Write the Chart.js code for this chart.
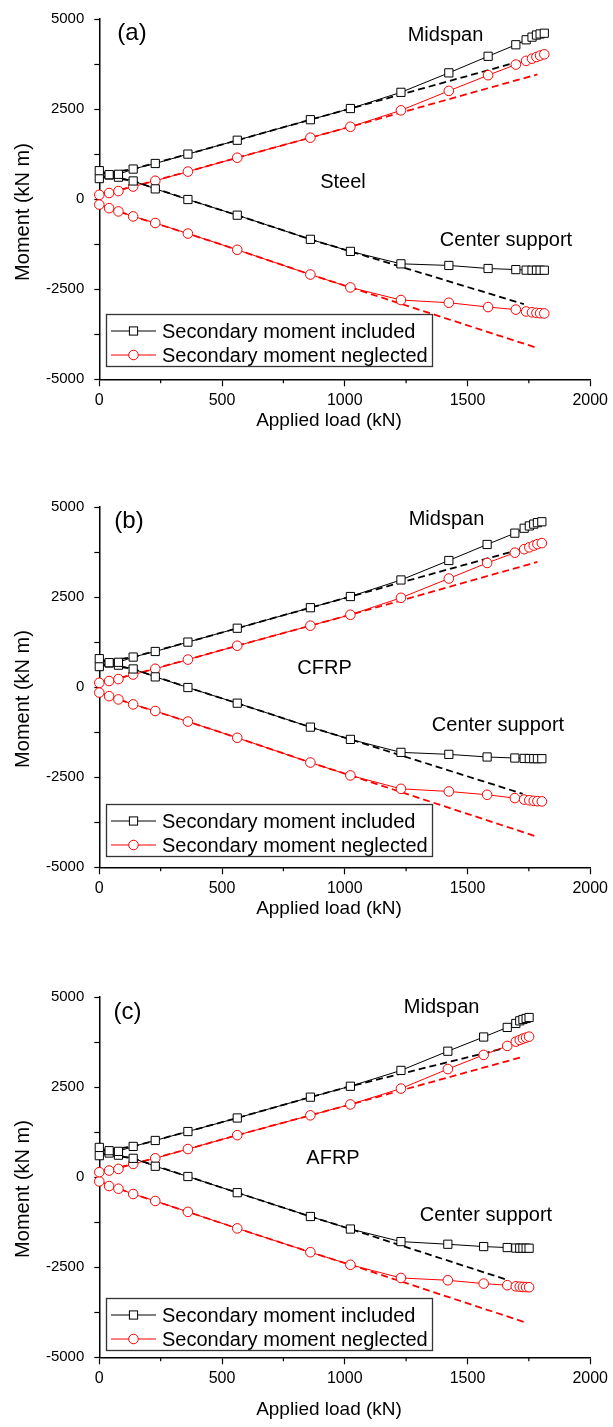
<!DOCTYPE html>
<html>
<head>
<meta charset="utf-8">
<script src="https://cdn.jsdelivr.net/npm/chart.js@4.4.1/dist/chart.umd.min.js"></script>
<style>
  html, body { margin: 0; padding: 0; background: #fff; }
  body { width: 613px; height: 1427px; position: relative; overflow: hidden; }
  .panel { position: absolute; left: 0; width: 613px; }
  canvas { display: block; }
</style>
</head>
<body>
<div class="panel" style="top:0"><canvas id="chartA" width="613" height="488"></canvas></div>
<div class="panel" style="top:488px"><canvas id="chartB" width="613" height="490"></canvas></div>
<div class="panel" style="top:978px"><canvas id="chartC" width="613" height="449"></canvas></div>
<script>
// ---- (a) Steel ----
const loadA    = [0, 40, 78, 138, 228, 361, 562, 860, 1023, 1229, 1424, 1584, 1697, 1739, 1763, 1781, 1796, 1813];
const midInclA = [790, 680, 690, 835, 990, 1250, 1635, 2205, 2515, 2965, 3505, 3965, 4285, 4423, 4497, 4555, 4585, 4605];
const supInclA = [570, 670, 610, 505, 285, -10, -445, -1115, -1450, -1795, -1840, -1925, -1955, -1970, -1972, -1972, -1972, -1972];
const midNeglA = [120, 170, 225, 350, 510, 765, 1150, 1706, 2009, 2465, 3005, 3440, 3735, 3838, 3900, 3946, 3984, 4020];
const supNeglA = [-150, -250, -340, -478, -662, -955, -1405, -2092, -2450, -2800, -2875, -2995, -3065, -3117, -3140, -3155, -3165, -3172];
// linear (dashed) results
const linInclLoadA = [0, 138, 361, 562, 860, 1023, 1730];
const linNeglLoadA = [0, 138, 361, 562, 860, 1023, 1785];
const linMidInclA  = [700, 835, 1250, 1635, 2205, 2515, 3855];
const linSupInclA  = [640, 505, -10, -445, -1115, -1450, -2914];
const linMidNeglA  = [120, 350, 765, 1150, 1706, 2009, 3463];
const linSupNeglA  = [-150, -478, -955, -1405, -2092, -2450, -4133];

// ---- (b) CFRP ----
const loadB    = [0, 40, 78, 138, 228, 361, 562, 860, 1023, 1229, 1424, 1580, 1693, 1731, 1752, 1770, 1785, 1803];
const midInclB = [790, 680, 690, 835, 990, 1250, 1635, 2205, 2515, 2975, 3515, 3960, 4274, 4410, 4475, 4525, 4565, 4590];
const supInclB = [570, 670, 610, 505, 285, -10, -445, -1110, -1450, -1810, -1865, -1938, -1967, -1978, -1982, -1984, -1985, -1985];
const midNeglB = [120, 170, 225, 350, 510, 765, 1150, 1706, 2009, 2480, 3015, 3447, 3732, 3830, 3880, 3930, 3970, 3998];
const supNeglB = [-150, -250, -340, -478, -662, -955, -1405, -2092, -2450, -2822, -2895, -2987, -3079, -3120, -3140, -3155, -3165, -3171];
const linInclLoadB = [0, 138, 361, 562, 860, 1023, 1725];
const linNeglLoadB = [0, 138, 361, 562, 860, 1023, 1785];
const linMidInclB  = [700, 835, 1250, 1635, 2205, 2515, 3842];
const linSupInclB  = [640, 505, -10, -445, -1110, -1450, -2960];
const linMidNeglB  = [120, 350, 765, 1150, 1706, 2009, 3474];
const linSupNeglB  = [-150, -478, -955, -1405, -2092, -2450, -4154];

// ---- (c) AFRP ----
const loadC    = [0, 40, 78, 138, 228, 361, 562, 860, 1023, 1229, 1420, 1566, 1662, 1697, 1713, 1726, 1739, 1751];
const midInclC = [826, 734, 716, 853, 1018, 1266, 1642, 2220, 2523, 2963, 3495, 3890, 4156, 4266, 4339, 4376, 4404, 4431];
const supInclC = [596, 670, 610, 523, 303, 18, -431, -1092, -1440, -1789, -1862, -1927, -1954, -1968, -1972, -1972, -1972, -1972];
const midNeglC = [138, 183, 229, 367, 523, 780, 1165, 1716, 2018, 2459, 3000, 3394, 3642, 3761, 3807, 3844, 3872, 3899];
const supNeglC = [-119, -248, -321, -468, -661, -963, -1422, -2083, -2431, -2798, -2862, -2954, -2999, -3030, -3040, -3048, -3052, -3055];
const linInclLoadC = [0, 138, 361, 562, 860, 1023, 1667];
const linNeglLoadC = [0, 138, 361, 562, 860, 1023, 1730];
const linMidInclC  = [720, 853, 1266, 1642, 2220, 2523, 3606];
const linSupInclC  = [650, 523, 18, -431, -1092, -1440, -2862];
const linMidNeglC  = [138, 367, 780, 1165, 1716, 2018, 3349];
const linSupNeglC  = [-119, -468, -963, -1422, -2083, -2431, -4018];

const xTicksMajor = [0, 500, 1000, 1500, 2000];
const legendLabels = ['Secondary moment included', 'Secondary moment neglected'];

const FONT = '"Liberation Sans", Arial, Helvetica, sans-serif';
const RED = '#ff0000';

const pts = (xs, ys) => xs.map((x, i) => ({ x, y: ys[i] }));

function drawSquare(ctx, x, y, s) {
  ctx.fillStyle = '#fff';
  ctx.fillRect(x - s / 2, y - s / 2, s, s);
  ctx.strokeRect(x - s / 2, y - s / 2, s, s);
}
function drawCircle(ctx, x, y, r) {
  ctx.beginPath();
  ctx.arc(x, y, r, 0, Math.PI * 2);
  ctx.fillStyle = '#fff';
  ctx.fill();
  ctx.stroke();
}

// texts, legend, axis titles and minor ticks
const decor = {
  id: 'decor',
  afterDraw(chart, args, o) {
    const { ctx } = chart;
    const x = chart.scales.x;
    ctx.save();

    // minor ticks on x
    ctx.strokeStyle = '#000';
    ctx.lineWidth = 1.2;
    const xt = x.ticks.map(t => t.value);
    for (let i = 0; i < xt.length - 1; i++) {
      const px = x.getPixelForValue((xt[i] + xt[i + 1]) / 2);
      ctx.beginPath();
      ctx.moveTo(px, x.top);
      ctx.lineTo(px, x.top + 4);
      ctx.stroke();
    }

    ctx.fillStyle = '#000';
    ctx.textAlign = 'center';
    ctx.textBaseline = 'middle';
    ctx.font = `24px ${FONT}`;
    ctx.fillText(o.tag, o.tagAt[0], o.tagAt[1]);
    ctx.font = `20px ${FONT}`;
    ctx.fillText(o.material, o.materialAt[0], o.materialAt[1]);
    ctx.fillText('Midspan', o.midAt[0], o.midAt[1]);
    ctx.fillText('Center support', o.supAt[0], o.supAt[1]);

    // axis titles
    ctx.font = `19px ${FONT}`;
    ctx.fillText('Applied load (kN)', 329, o.xTitleY);
    ctx.save();
    ctx.translate(23, o.yTitleY);
    ctx.rotate(-Math.PI / 2);
    ctx.font = `20px ${FONT}`;
    ctx.fillText('Moment (kN m)', 0, 0);
    ctx.restore();

    // legend box
    const lx = 106, ly = o.legendTop, lw = 326, lh = 52;
    ctx.strokeStyle = '#333';
    ctx.lineWidth = 1.3;
    ctx.strokeRect(lx + 0.5, ly + 0.5, lw, lh);
    const rows = [ly + 17, ly + 41];
    ctx.lineWidth = 1;
    ctx.strokeStyle = '#000';
    ctx.beginPath(); ctx.moveTo(111, rows[0]); ctx.lineTo(156, rows[0]); ctx.stroke();
    drawSquare(ctx, 133.5, rows[0], 8.2);
    ctx.strokeStyle = RED;
    ctx.beginPath(); ctx.moveTo(111, rows[1]); ctx.lineTo(156, rows[1]); ctx.stroke();
    drawCircle(ctx, 133.5, rows[1], 4.8);
    ctx.fillStyle = '#000';
    ctx.textAlign = 'left';
    ctx.font = `20px ${FONT}`;
    ctx.fillText(legendLabels[0], 162, rows[0] + 1);
    ctx.fillText(legendLabels[1], 162, rows[1] + 1);

    ctx.restore();
  }
};

function solid(data, color, style) {
  return {
    data, borderColor: color, borderWidth: 1, tension: 0, fill: false,
    pointStyle: style, pointRadius: style === 'rect' ? 5.8 : 4.8,
    pointBackgroundColor: '#fff', pointBorderColor: color, pointBorderWidth: 1,
    clip: false
  };
}
function dashed(data, color) {
  return {
    data, borderColor: color, borderWidth: 1.8, borderDash: [7, 4],
    tension: 0, fill: false, pointRadius: 0, clip: false
  };
}

function makeChart(id, s, deco) {
  const canvas = document.getElementById(id);
  const H = canvas.height;
  new Chart(canvas, {
    type: 'line',
    data: {
      datasets: [
        solid(pts(s.load, s.midIncl), '#000', 'rect'),
        solid(pts(s.load, s.supIncl), '#000', 'rect'),
        solid(pts(s.load, s.midNegl), RED, 'circle'),
        solid(pts(s.load, s.supNegl), RED, 'circle'),
        dashed(pts(s.linInclLoad, s.linMidIncl), '#000'),
        dashed(pts(s.linInclLoad, s.linSupIncl), '#000'),
        dashed(pts(s.linNeglLoad, s.linMidNegl), RED),
        dashed(pts(s.linNeglLoad, s.linSupNegl), RED)
      ]
    },
    options: {
      responsive: false,
      animation: false,
      events: [],
      layout: { padding: { left: 0, right: 21.5, top: 15.2, bottom: H - 379.3 - 30 } },
      plugins: { legend: { display: false }, tooltip: { enabled: false }, decor: deco },
      scales: {
        x: {
          type: 'linear', min: 0, max: 2000,
          afterBuildTicks: sc => { sc.ticks = xTicksMajor.map(v => ({ value: v })); },
          afterFit: sc => { sc.height = 30; },
          ticks: {
            color: '#000', font: { family: FONT, size: 16 }, padding: 5, maxRotation: 0, autoSkip: false,
            callback: v => String(v)
          },
          grid: { drawOnChartArea: false, tickLength: 7, tickColor: '#000', tickWidth: 1.2, color: '#000' },
          border: { color: '#000', width: 1.5 }
        },
        y: {
          min: -5000, max: 5000,
          afterFit: sc => { sc.width = 99.3; },
          ticks: {
            stepSize: 1250, color: '#000', font: { family: FONT, size: 15 }, padding: 10,
            callback: v => (v % 2500 === 0 ? String(v) : '')
          },
          grid: { drawOnChartArea: false, tickLength: 5, tickColor: '#000', tickWidth: 1.2, color: '#000' },
          border: { color: '#000', width: 1.5 }
        }
      }
    },
    plugins: [decor]
  });
}

makeChart('chartA', {
  load: loadA, midIncl: midInclA, supIncl: supInclA, midNegl: midNeglA, supNegl: supNeglA,
  linInclLoad: linInclLoadA, linNeglLoad: linNeglLoadA,
  linMidIncl: linMidInclA, linSupIncl: linSupInclA, linMidNegl: linMidNeglA, linSupNegl: linSupNeglA
}, {
  tag: '(a)', tagAt: [132, 33], material: 'Steel', materialAt: [343, 182],
  midAt: [445.5, 35], supAt: [506, 240], legendTop: 314, xTitleY: 421, yTitleY: 212
});

makeChart('chartB', {
  load: loadB, midIncl: midInclB, supIncl: supInclB, midNegl: midNeglB, supNegl: supNeglB,
  linInclLoad: linInclLoadB, linNeglLoad: linNeglLoadB,
  linMidIncl: linMidInclB, linSupIncl: linSupInclB, linMidNegl: linMidNeglB, linSupNegl: linSupNeglB
}, {
  tag: '(b)', tagAt: [129, 33], material: 'CFRP', materialAt: [324.5, 180],
  midAt: [446.5, 31], supAt: [498, 237], legendTop: 316, xTitleY: 421, yTitleY: 211
});

makeChart('chartC', {
  load: loadC, midIncl: midInclC, supIncl: supInclC, midNegl: midNeglC, supNegl: supNeglC,
  linInclLoad: linInclLoadC, linNeglLoad: linNeglLoadC,
  linMidIncl: linMidInclC, linSupIncl: linSupInclC, linMidNegl: linMidNeglC, linSupNegl: linSupNeglC
}, {
  tag: '(c)', tagAt: [127.5, 34], material: 'AFRP', materialAt: [333, 180],
  midAt: [441.6, 29], supAt: [486, 237], legendTop: 320, xTitleY: 432, yTitleY: 211
});
</script>
</body>
</html>
